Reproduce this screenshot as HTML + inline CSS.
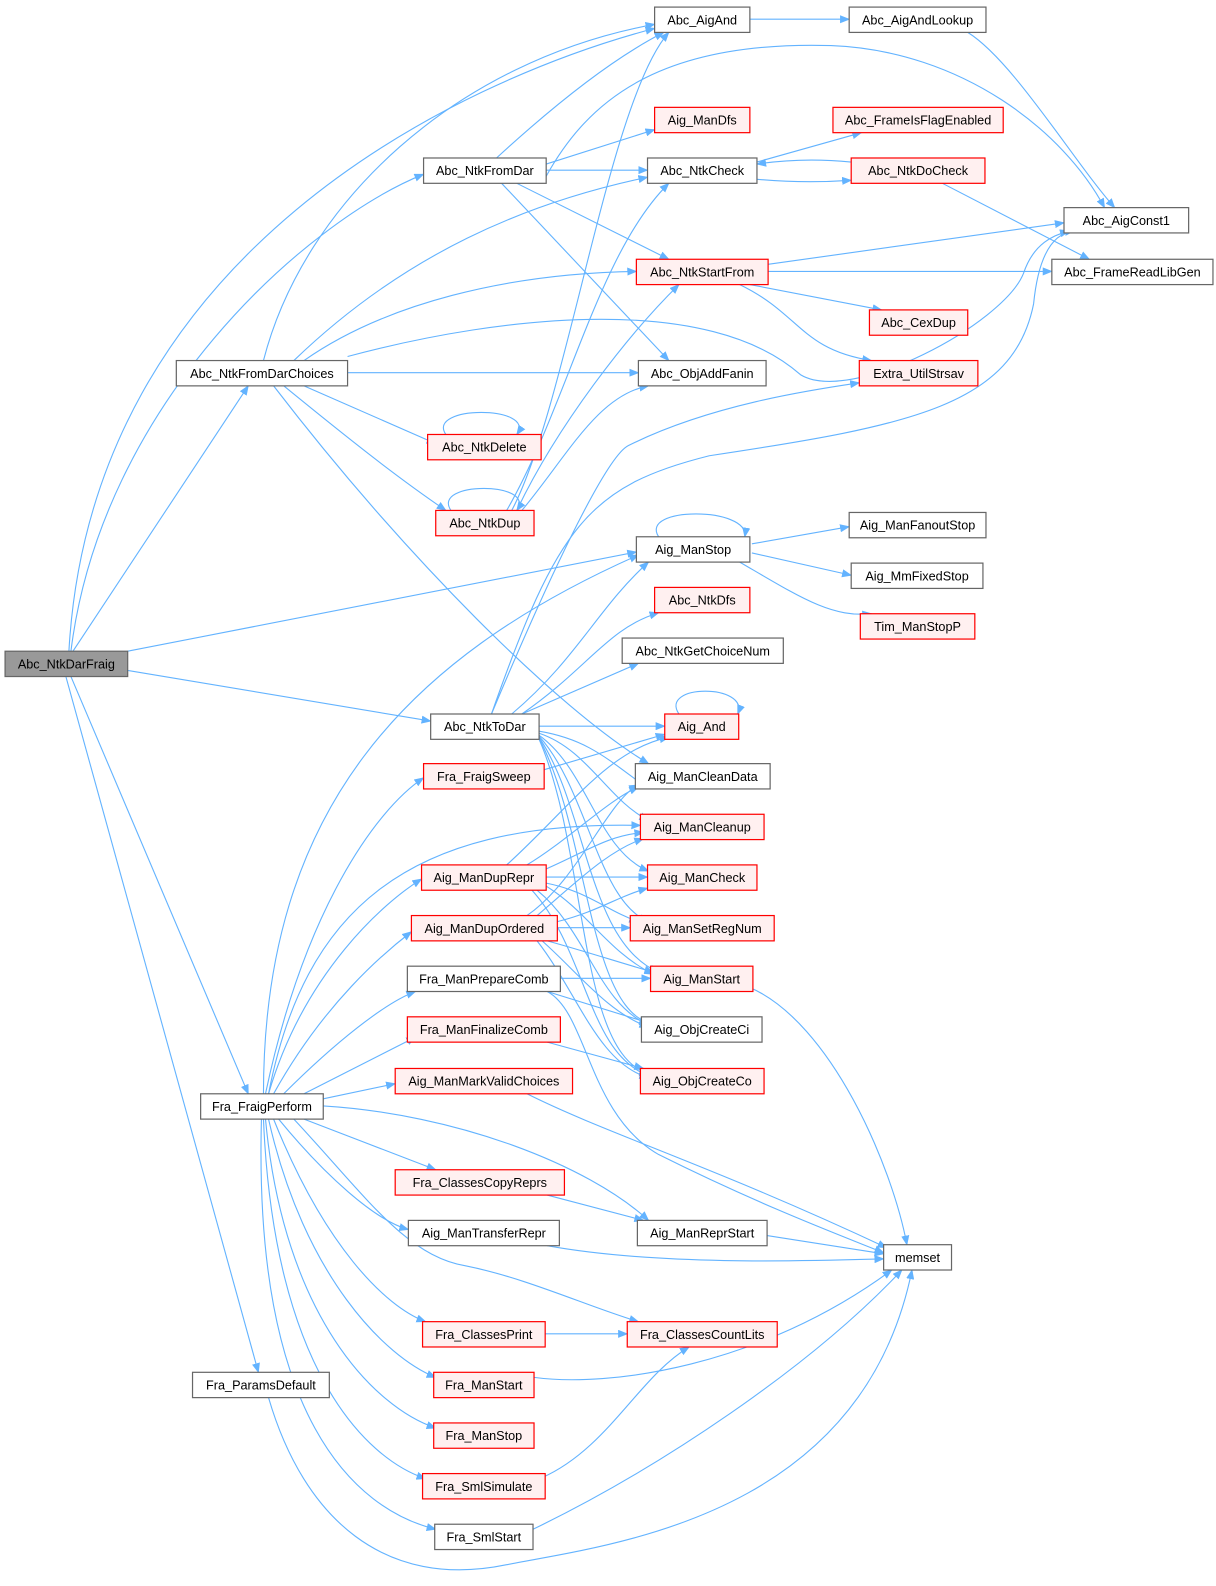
<!DOCTYPE html>
<html><head><meta charset="utf-8"><style>
html,body{margin:0;padding:0;background:#fff}
svg{display:block}
text{font-family:"Liberation Sans",Arial,sans-serif;font-size:12.5px;fill:#000}
.e{fill:none;stroke:#63b3ff;stroke-width:1.1}
.n{fill:#fff;stroke:#666;stroke-width:1.2}
.r{fill:#fff0f0;stroke:#f00;stroke-width:1.2}
.g{fill:#999;stroke:#666;stroke-width:1.2}
</style></head><body>
<svg width="1216" height="1586" viewBox="0 0 1200 1566" preserveAspectRatio="none" xmlns="http://www.w3.org/2000/svg">
<defs><marker id="a" markerWidth="10" markerHeight="8" refX="9" refY="4" orient="auto" markerUnits="userSpaceOnUse"><path d="M0,0 L10,4 L0,8 z" fill="#63b3ff"/></marker></defs>
<g class="e" marker-end="url(#a)">
<path d="M70,643 C100,400 300,220 418,172"/>
<path d="M68,643 C90,250 450,80 646,28"/>
<path d="M72,643 L245,381"/>
<path d="M126,643 L628,545"/>
<path d="M126,662 L425,712"/>
<path d="M70,668 L245,1080"/>
<path d="M65,668 L255,1355"/>
<path d="M740,19 L838,19"/>
<path d="M955,32 C1000,60 1060,160 1100,205"/>
<path d="M490,156 C540,110 600,60 655,32"/>
<path d="M539,162 L646,128"/>
<path d="M539,168 L639,168"/>
<path d="M510,181 L660,256"/>
<path d="M495,181 L660,356"/>
<path d="M539,174 C580,100 650,40 820,45 C950,50 1050,130 1090,205"/>
<path d="M747,160 L850,131"/>
<path d="M747,177 C780,180 810,180 840,178"/>
<path d="M840,160 C810,157 780,157 747,162"/>
<path d="M930,181 L1075,256"/>
<path d="M758,261 L1050,220"/>
<path d="M758,268 L1038,268"/>
<path d="M740,281 L870,306"/>
<path d="M730,281 C790,310 790,345 860,356"/>
<path d="M260,356 C300,200 450,60 646,24"/>
<path d="M290,356 C400,250 520,200 639,175"/>
<path d="M300,356 C380,300 500,270 628,268"/>
<path d="M343,352 C500,310 700,290 790,370 C840,400 990,320 1010,270 C1020,240 1040,232 1055,228"/>
<path d="M343,368 L630,368"/>
<path d="M300,381 L430,438"/>
<path d="M280,381 C340,430 390,470 440,504"/>
<path d="M270,381 C400,550 550,700 640,754"/>
<path d="M440,429 C420,400 530,400 510,429"/>
<path d="M445,504 C425,475 530,475 510,504"/>
<path d="M505,504 C560,400 600,100 660,32"/>
<path d="M500,504 C560,400 590,250 660,181"/>
<path d="M510,504 C550,420 620,330 670,281"/>
<path d="M515,504 C560,450 590,390 640,381"/>
<path d="M485,705 C550,550 600,450 620,440 C700,400 800,385 848,378"/>
<path d="M485,705 C550,520 580,480 700,450 C900,420 1000,400 1020,300 C1025,250 1040,230 1060,228"/>
<path d="M505,705 C570,650 590,600 640,555"/>
<path d="M515,705 C580,660 600,620 650,605"/>
<path d="M515,705 L630,655"/>
<path d="M532,717 L656,717"/>
<path d="M532,722 C580,730 600,750 640,779"/>
<path d="M532,724 C580,740 600,790 640,810"/>
<path d="M532,726 C580,760 590,840 640,860"/>
<path d="M532,727 C580,780 590,890 640,910"/>
<path d="M532,728 C580,800 580,930 650,960"/>
<path d="M532,729 C580,820 580,990 640,1010"/>
<path d="M532,730 C580,840 570,1040 640,1060"/>
<path d="M670,705 C650,675 740,675 728,705"/>
<path d="M650,530 C630,500 740,500 735,530"/>
<path d="M742,537 L838,520"/>
<path d="M742,546 L840,568"/>
<path d="M730,555 C790,590 820,610 860,606"/>
<path d="M260,1080 C260,800 400,650 630,548"/>
<path d="M262,1080 C300,900 370,800 418,768"/>
<path d="M265,1080 C300,900 400,810 632,815"/>
<path d="M265,1080 C300,960 380,890 416,868"/>
<path d="M270,1080 C320,990 380,940 406,920"/>
<path d="M280,1080 C330,1030 380,990 410,979"/>
<path d="M300,1080 L410,1024"/>
<path d="M319,1085 L390,1070"/>
<path d="M319,1092 C450,1100 580,1150 640,1205"/>
<path d="M300,1105 L430,1155"/>
<path d="M275,1105 C320,1160 370,1205 403,1214"/>
<path d="M290,1105 C360,1180 400,1240 460,1250 C520,1262 580,1290 630,1305"/>
<path d="M270,1105 C320,1230 380,1290 420,1305"/>
<path d="M265,1105 C300,1260 380,1340 430,1360"/>
<path d="M262,1105 C280,1300 370,1390 430,1410"/>
<path d="M260,1105 C270,1350 360,1440 420,1460"/>
<path d="M258,1105 C250,1400 350,1490 430,1510"/>
<path d="M537,760 L656,725"/>
<path d="M500,854 C560,800 600,740 660,728"/>
<path d="M520,854 C560,830 600,790 630,777"/>
<path d="M539,866 L639,866"/>
<path d="M539,858 C580,840 600,825 635,822"/>
<path d="M539,872 C580,880 600,900 630,910"/>
<path d="M539,875 C580,900 600,940 645,962"/>
<path d="M530,879 C580,920 590,990 640,1012"/>
<path d="M525,879 C580,940 580,1040 640,1062"/>
<path d="M520,904 C570,870 600,790 630,775"/>
<path d="M530,904 C570,870 600,840 635,828"/>
<path d="M550,910 C590,900 610,885 639,877"/>
<path d="M550,916 L622,916"/>
<path d="M540,929 C580,940 610,950 645,960"/>
<path d="M535,929 C570,960 600,1000 640,1014"/>
<path d="M530,929 C570,980 590,1050 640,1064"/>
<path d="M553,966 L642,966"/>
<path d="M540,979 L640,1010"/>
<path d="M540,979 C580,1000 580,1100 650,1140 C750,1190 830,1220 872,1237"/>
<path d="M540,1029 L635,1055"/>
<path d="M520,1080 C600,1120 700,1150 875,1232"/>
<path d="M540,1180 L635,1205"/>
<path d="M540,1230 C650,1250 800,1245 872,1243"/>
<path d="M757,1220 L872,1238"/>
<path d="M740,975 C820,1010 880,1150 895,1229"/>
<path d="M538,1317 L619,1317"/>
<path d="M527,1360 C600,1370 750,1350 880,1254"/>
<path d="M535,1459 C600,1430 630,1360 680,1330"/>
<path d="M526,1510 C650,1450 800,1350 890,1254"/>
<path d="M265,1380 C300,1500 380,1570 500,1545 C600,1525 850,1500 900,1254"/>
</g>
<g text-anchor="middle">
<rect class="g" x="5" y="643" width="121" height="25"/><text x="65.5" y="660">Abc_NtkDarFraig</text>
<rect class="n" x="646" y="7" width="94" height="25"/><text x="693" y="24">Abc_AigAnd</text>
<rect class="n" x="838" y="7" width="135" height="25"/><text x="905.5" y="24">Abc_AigAndLookup</text>
<rect class="r" x="646" y="106" width="94" height="25"/><text x="693" y="123">Aig_ManDfs</text>
<rect class="r" x="822" y="106" width="168" height="25"/><text x="906" y="123">Abc_FrameIsFlagEnabled</text>
<rect class="n" x="418" y="156" width="121" height="25"/><text x="478.5" y="173">Abc_NtkFromDar</text>
<rect class="n" x="639" y="156" width="108" height="25"/><text x="693" y="173">Abc_NtkCheck</text>
<rect class="r" x="840" y="156" width="132" height="25"/><text x="906" y="173">Abc_NtkDoCheck</text>
<rect class="n" x="1050" y="205" width="123" height="25"/><text x="1111.5" y="222">Abc_AigConst1</text>
<rect class="r" x="628" y="256" width="130" height="25"/><text x="693" y="273">Abc_NtkStartFrom</text>
<rect class="n" x="1038" y="256" width="159" height="25"/><text x="1117.5" y="273">Abc_FrameReadLibGen</text>
<rect class="r" x="858" y="306" width="97" height="25"/><text x="906.5" y="323">Abc_CexDup</text>
<rect class="n" x="174" y="356" width="169" height="25"/><text x="258.5" y="373">Abc_NtkFromDarChoices</text>
<rect class="n" x="630" y="356" width="126" height="25"/><text x="693" y="373">Abc_ObjAddFanin</text>
<rect class="r" x="848" y="356" width="117" height="25"/><text x="906.5" y="373">Extra_UtilStrsav</text>
<rect class="r" x="422" y="429" width="112" height="25"/><text x="478" y="446">Abc_NtkDelete</text>
<rect class="r" x="430" y="504" width="97" height="25"/><text x="478.5" y="521">Abc_NtkDup</text>
<rect class="n" x="838" y="506" width="135" height="25"/><text x="905.5" y="523">Aig_ManFanoutStop</text>
<rect class="n" x="628" y="530" width="112" height="25"/><text x="684" y="547">Aig_ManStop</text>
<rect class="n" x="840" y="556" width="130" height="25"/><text x="905" y="573">Aig_MmFixedStop</text>
<rect class="r" x="646" y="580" width="94" height="25"/><text x="693" y="597">Abc_NtkDfs</text>
<rect class="r" x="849" y="606" width="113" height="25"/><text x="905.5" y="623">Tim_ManStopP</text>
<rect class="n" x="614" y="630" width="159" height="25"/><text x="693.5" y="647">Abc_NtkGetChoiceNum</text>
<rect class="n" x="425" y="705" width="107" height="25"/><text x="478.5" y="722">Abc_NtkToDar</text>
<rect class="r" x="656" y="705" width="73" height="25"/><text x="692.5" y="722">Aig_And</text>
<rect class="r" x="418" y="754" width="119" height="25"/><text x="477.5" y="771">Fra_FraigSweep</text>
<rect class="n" x="627" y="754" width="133" height="25"/><text x="693.5" y="771">Aig_ManCleanData</text>
<rect class="r" x="632" y="804" width="122" height="25"/><text x="693" y="821">Aig_ManCleanup</text>
<rect class="r" x="416" y="854" width="123" height="25"/><text x="477.5" y="871">Aig_ManDupRepr</text>
<rect class="r" x="639" y="854" width="108" height="25"/><text x="693" y="871">Aig_ManCheck</text>
<rect class="r" x="406" y="904" width="144" height="25"/><text x="478" y="921">Aig_ManDupOrdered</text>
<rect class="r" x="622" y="904" width="142" height="25"/><text x="693" y="921">Aig_ManSetRegNum</text>
<rect class="n" x="402" y="954" width="151" height="25"/><text x="477.5" y="971">Fra_ManPrepareComb</text>
<rect class="r" x="642" y="954" width="101" height="25"/><text x="692.5" y="971">Aig_ManStart</text>
<rect class="n" x="633" y="1004" width="119" height="25"/><text x="692.5" y="1021">Aig_ObjCreateCi</text>
<rect class="r" x="402" y="1004" width="151" height="25"/><text x="477.5" y="1021">Fra_ManFinalizeComb</text>
<rect class="r" x="632" y="1055" width="122" height="25"/><text x="693" y="1072">Aig_ObjCreateCo</text>
<rect class="r" x="390" y="1055" width="175" height="25"/><text x="477.5" y="1072">Aig_ManMarkValidChoices</text>
<rect class="n" x="198" y="1080" width="121" height="25"/><text x="258.5" y="1097">Fra_FraigPerform</text>
<rect class="r" x="390" y="1155" width="167" height="25"/><text x="473.5" y="1172">Fra_ClassesCopyReprs</text>
<rect class="n" x="403" y="1205" width="149" height="25"/><text x="477.5" y="1222">Aig_ManTransferRepr</text>
<rect class="n" x="629" y="1205" width="128" height="25"/><text x="693" y="1222">Aig_ManReprStart</text>
<rect class="n" x="872" y="1229" width="67" height="25"/><text x="905.5" y="1246">memset</text>
<rect class="r" x="417" y="1305" width="121" height="25"/><text x="477.5" y="1322">Fra_ClassesPrint</text>
<rect class="r" x="619" y="1305" width="148" height="25"/><text x="693" y="1322">Fra_ClassesCountLits</text>
<rect class="n" x="190" y="1355" width="135" height="25"/><text x="257.5" y="1372">Fra_ParamsDefault</text>
<rect class="r" x="428" y="1355" width="99" height="25"/><text x="477.5" y="1372">Fra_ManStart</text>
<rect class="r" x="428" y="1405" width="99" height="25"/><text x="477.5" y="1422">Fra_ManStop</text>
<rect class="r" x="417" y="1455" width="121" height="25"/><text x="477.5" y="1472">Fra_SmlSimulate</text>
<rect class="n" x="429" y="1505" width="97" height="25"/><text x="477.5" y="1522">Fra_SmlStart</text>
</g>
</svg>
</body></html>
